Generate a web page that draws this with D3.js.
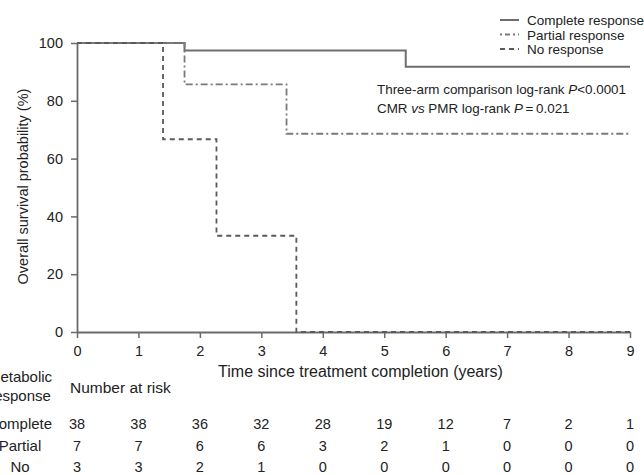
<!DOCTYPE html>
<html>
<head>
<meta charset="utf-8">
<script src="https://cdn.jsdelivr.net/npm/d3@7"></script>
<style>
  body { margin: 0; background: #fff; }
  svg { font-family: "Liberation Sans", Arial, sans-serif; }
</style>
</head>
<body>
<div id="graph"></div>
<script>
// survival steps (time in years, survival %)
var completeCurve = [[0, 100], [1.75, 97.4], [5.35, 91.8], [9, 91.8]];
var partialCurve = [[0, 100], [1.75, 85.7], [3.41, 68.6], [9, 68.6]];
var noCurve = [[0, 100], [1.40, 66.7], [2.27, 33.3], [3.57, 0], [9, 0]];

var seriesNames = ["Complete response", "Partial response", "No response"];
var riskLabels = ["Complete", "Partial", "No"];
var riskTimes = [0, 1, 2, 3, 4, 5, 6, 7, 8, 9];
var riskComplete = [38, 38, 36, 32, 28, 19, 12, 7, 2, 1];
var riskPartial = [7, 7, 6, 6, 3, 2, 1, 0, 0, 0];
var riskNo = [3, 3, 2, 1, 0, 0, 0, 0, 0, 0];
var yTicks = [0, 20, 40, 60, 80, 100];

var W = 644, H = 475;
var margin = {top: 43, right: 14, bottom: 143, left: 77},
    width = W - margin.left - margin.right,
    height = H - margin.top - margin.bottom;

var svg = d3.select("#graph")
  .append("svg")
    .attr("width", W)
    .attr("height", H);

var g = svg.append("g")
    .attr("transform", "translate(" + margin.left + "," + margin.top + ")");

var x = d3.scaleLinear().domain([0, 9]).range([0, 553]);
var y = d3.scaleLinear().domain([0, 100]).range([height, 0]);

var axisColor = "#6a6a6a";

// x axis
var xa = g.append("g")
  .attr("transform", "translate(0," + height + ")")
  .call(d3.axisBottom(x).tickValues(riskTimes).tickSize(6).tickSizeOuter(0).tickPadding(8));
// y axis
var ya = g.append("g")
  .call(d3.axisLeft(y).tickValues(yTicks).tickSize(6).tickSizeOuter(0).tickPadding(8));

[xa, ya].forEach(function (a) {
  a.select(".domain").attr("stroke", axisColor).attr("stroke-width", 1.8);
  a.selectAll(".tick line").attr("stroke", axisColor).attr("stroke-width", 1.5);
  a.selectAll(".tick text")
    .attr("fill", "#222")
    .style("font-size", "14.5px")
    .style("font-family", "'Liberation Sans', Arial, sans-serif");
});

// axis titles
g.append("text")
  .attr("transform", "rotate(-90)")
  .attr("x", -height / 2 + 1)
  .attr("y", -49)
  .attr("text-anchor", "middle")
  .attr("fill", "#222")
  .style("font-size", "14.5px")
  .text("Overall survival probability (%)");

g.append("text")
  .attr("x", x(4.5) + 7)
  .attr("y", height + 45)
  .attr("text-anchor", "middle")
  .attr("fill", "#222")
  .style("font-size", "16px")
  .text("Time since treatment completion (years)");

// curves
var line = d3.line()
  .curve(d3.curveStepAfter)
  .x(function (d) { return x(d[0]); })
  .y(function (d) { return y(d[1]); });

var styles = [
  {data: completeCurve, color: "#6e6e6e", dash: null, w: 2},
  {data: partialCurve, color: "#7a7a7a", dash: "7,3,2,3", w: 1.8},
  {data: noCurve, color: "#5a5a5a", dash: "5,4", w: 1.8}
];

styles.forEach(function (s) {
  g.append("path")
    .datum(s.data)
    .attr("fill", "none")
    .attr("stroke", s.color)
    .attr("stroke-width", s.w)
    .attr("stroke-dasharray", s.dash)
    .attr("d", line);
});

// legend
var legend = svg.append("g").attr("transform", "translate(500,0)");
seriesNames.forEach(function (name, i) {
  var yy = 20 + i * 14.5;
  legend.append("line")
    .attr("x1", 0).attr("x2", 19)
    .attr("y1", yy).attr("y2", yy)
    .attr("stroke", styles[i].color)
    .attr("stroke-width", styles[i].w)
    .attr("stroke-dasharray", i == 1 ? "2,3,5,3" : (i == 2 ? "5,4" : null));
  legend.append("text")
    .attr("x", 27)
    .attr("y", yy + 5)
    .attr("fill", "#222")
    .style("font-size", "13.5px")
    .text(name);
});

// statistics
var stats = svg.append("g").style("font-size", "13.4px").attr("fill", "#222");
var t1 = stats.append("text").attr("x", 377).attr("y", 94);
t1.append("tspan").text("Three-arm comparison log-rank ");
t1.append("tspan").style("font-style", "italic").text("P");
t1.append("tspan").text("<0.0001");
var t2 = stats.append("text").attr("x", 377).attr("y", 113);
t2.append("tspan").text("CMR ");
t2.append("tspan").style("font-style", "italic").text("vs");
t2.append("tspan").text(" PMR log-rank ");
t2.append("tspan").style("font-style", "italic").text("P");
t2.append("tspan").text("\u2009=\u20090.021");

// number at risk table
var risk = svg.append("g").attr("fill", "#222").style("font-size", "15px");
risk.append("text").attr("x", 20).attr("y", 382).attr("text-anchor", "middle").text("Metabolic");
risk.append("text").attr("x", 20).attr("y", 401).attr("text-anchor", "middle").text("response");
risk.append("text").attr("x", 70).attr("y", 393).style("font-size", "15.5px").text("Number at risk");

var rows = [riskComplete, riskPartial, riskNo];
rows.forEach(function (vals, r) {
  var yy = 429 + r * 21.5;
  risk.append("text").attr("x", 20).attr("y", yy).attr("text-anchor", "middle").text(riskLabels[r]);
  vals.forEach(function (v, i) {
    risk.append("text")
      .attr("x", margin.left + x(riskTimes[i]))
      .attr("y", yy)
      .attr("text-anchor", "middle")
      .style("font-size", "14.5px")
      .text(v);
  });
});
</script>
</body>
</html>
